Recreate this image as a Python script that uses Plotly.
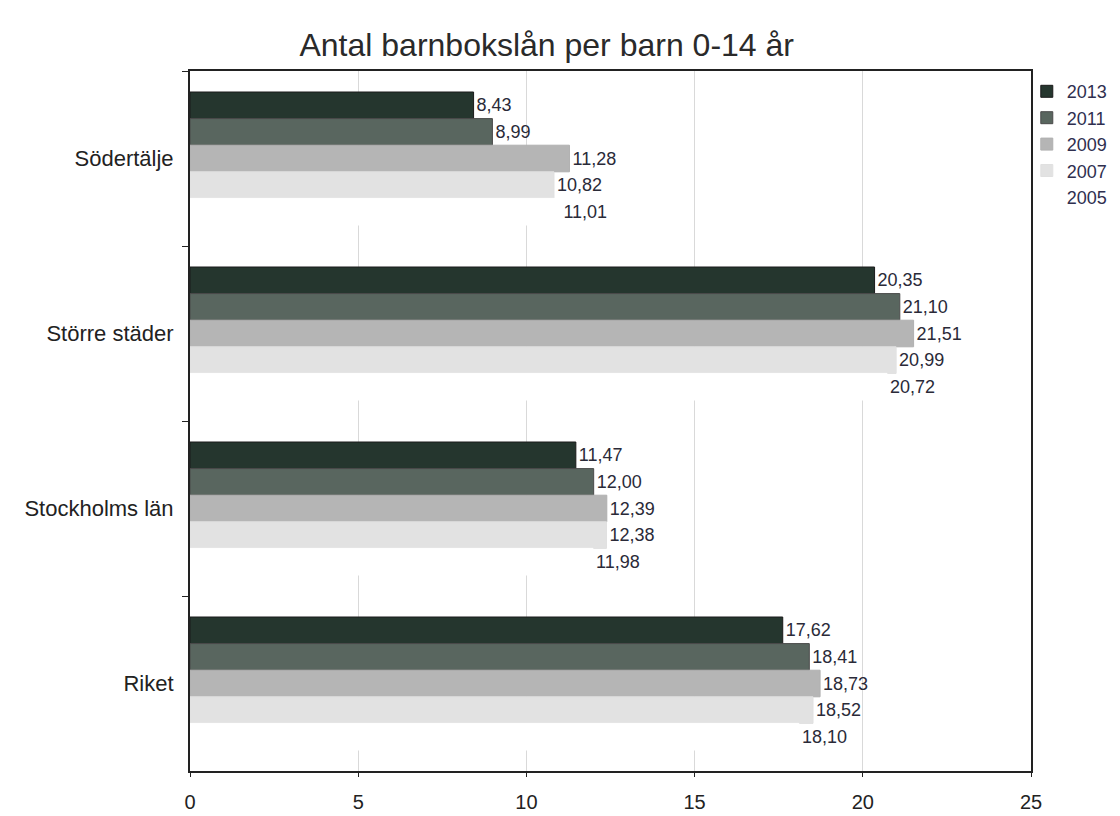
import plotly.graph_objects as go

categories = ["Södertälje", "Större städer", "Stockholms län", "Riket"]
years = ["2013", "2011", "2009", "2007", "2005"]
v2013 = [8.43, 20.35, 11.47, 17.62]
v2011 = [8.99, 21.10, 12.00, 18.41]
v2009 = [11.28, 21.51, 12.39, 18.73]
v2007 = [10.82, 20.99, 12.38, 18.52]
v2005 = [11.01, 20.72, 11.98, 18.10]
series = [v2013, v2011, v2009, v2007, v2005]
colors = ["#25362e", "#59665f", "#b5b5b5", "#e2e2e2", "#ffffff"]
lines = ["#1a1a1a", "#4a4a4a", "#b0b0b0", "#e0e0e0", "#ffffff"]

FONT = "Liberation Sans, Arial, sans-serif"

fig = go.Figure()
for name, vals, c, lc in zip(years, series, colors, lines):
    fig.add_trace(go.Bar(
        y=categories, x=vals, name=name, orientation="h",
        marker=dict(color=c, line=dict(color=lc, width=1)),
        text=[f"{v:.2f}".replace(".", ",") for v in vals],
        textposition="outside", cliponaxis=False,
        textfont=dict(size=18, color="#2a2a38", family=FONT),
    ))

fig.update_layout(
    width=1120, height=816,
    paper_bgcolor="white", plot_bgcolor="white",
    barmode="group", bargap=0.24, bargroupgap=0,
    margin=dict(l=182, r=97, t=63, b=53, autoexpand=False),
    font=dict(family=FONT, color="#111111"),
    title=dict(text="Antal barnbokslån per barn 0-14 år", x=0.481, xanchor="center",
               y=1 - 37 / 816, yanchor="middle",
               font=dict(size=32, color="#2a2a2a", family=FONT)),
    legend=dict(x=0.995, y=0.997, xanchor="left", yanchor="top",
                font=dict(size=18, color="#2f2f4f", family=FONT), tracegroupgap=0,
                itemwidth=30, bgcolor="rgba(0,0,0,0)"),
    xaxis=dict(range=[0, 25], dtick=5, showgrid=True, gridcolor="#d9d9d9",
               showline=True, linecolor="#222222", linewidth=2, mirror=True,
               ticks="outside", ticklen=4, tickcolor="#222222",
               ticklabelstandoff=8,
               tickfont=dict(size=20, color="#222222"), zeroline=False),
    yaxis=dict(autorange="reversed", tickson="boundaries", ticks="outside",
               ticklen=6, tickcolor="#222222", showline=True, linecolor="#222222",
               linewidth=2, mirror=True, showgrid=False, ticklabelstandoff=10,
               tickfont=dict(size=22, color="#222222")),
    showlegend=True,
)

fig.write_html("out.html")
